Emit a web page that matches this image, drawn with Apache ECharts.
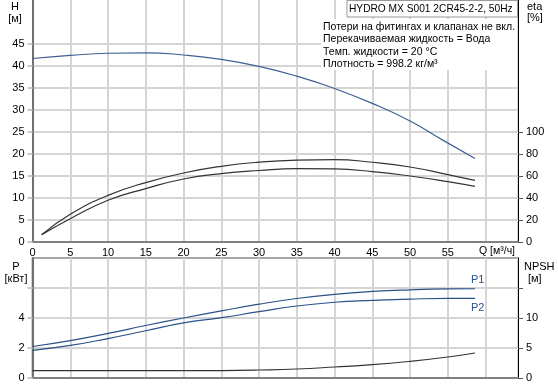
<!DOCTYPE html>
<html><head><meta charset="utf-8">
<script src="https://cdn.jsdelivr.net/npm/echarts@6/dist/echarts.min.js"></script>
<style>html,body{margin:0;padding:0;background:#fff}#c{width:558px;height:387px}</style>
</head><body><div id="c"></div>
<script>
// ---- data ----
const qHead = [0, 5, 10, 15, 20, 25, 30, 35, 40, 45, 50, 54.4, 58.6];
const head  = [41.7, 42.4, 42.9, 43.0, 42.5, 41.5, 39.9, 37.7, 34.9, 31.5, 27.5, 23.1, 19.0];

const qEta  = [1.22, 5, 10, 15, 20, 25, 30, 35, 40, 45, 50, 55, 58.6];
const eta1  = [6.7, 25.2, 42.4, 54.0, 62.7, 68.8, 72.6, 74.5, 74.9, 72.5, 68.2, 61.3, 56.1];
const eta2  = [6.7, 21.2, 37.9, 48.5, 57.3, 62.2, 65.0, 66.7, 66.4, 64.0, 60.0, 54.9, 50.6];

const qP    = [0, 5, 10, 15, 20, 25, 30, 35, 40, 45, 50, 55, 58.6];
const p1    = [2.10, 2.49, 2.97, 3.50, 4.00, 4.47, 4.92, 5.30, 5.58, 5.77, 5.88, 5.94, 5.95];
const p2    = [1.84, 2.17, 2.63, 3.15, 3.67, 4.02, 4.42, 4.80, 5.05, 5.17, 5.26, 5.31, 5.31];

const qNpsh = [0, 5, 10, 15, 20, 25, 30, 35, 40, 45, 50, 55, 58.6];
const npsh  = [1.22, 1.22, 1.22, 1.22, 1.22, 1.24, 1.33, 1.50, 1.83, 2.22, 2.78, 3.50, 4.17];

const qTicks    = [0, 5, 10, 15, 20, 25, 30, 35, 40, 45, 50, 55];
const hTicks    = [0, 5, 10, 15, 20, 25, 30, 35, 40, 45];
const etaTicks  = [0, 20, 40, 60, 80, 100];
const pTicks    = [0, 2, 4];
const pTickMarks = [0, 2, 4, 6];
const npshTicks = [0, 5, 10];
const npshTickMarks = [0, 5, 10, 15];

const infoTitle = 'HYDRO MX S001 2CR45-2-2, 50Hz';
const infoLines = ['Потери на фитингах и клапанах не вкл.',
                   'Перекачиваемая жидкость = Вода',
                   'Темп. жидкости = 20 °C',
                   'Плотность = 998.2 кг/м³'];

const zip = (xs, ys) => xs.map((x, i) => [x, ys[i]]);

const FONT = 'Liberation Sans, Arial, sans-serif';
const lbl = {color: '#000', fontSize: 11, fontFamily: FONT};
const grid = {lineStyle: {color: '#d5d5d5', width: 2}};

const chart = echarts.init(document.getElementById('c'), null, {renderer: 'canvas'});
chart.setOption({
  animation: false,
  textStyle: {fontFamily: FONT},
  grid: [
    {left: 32.5, top: 0, width: 485.5, height: 242},
    {left: 32.5, top: 258, width: 485.5, height: 120, show: true, borderColor: '#a8a8a8', borderWidth: 2}
  ],
  xAxis: [
    {type: 'value', gridIndex: 0, min: 0, max: 64.3, interval: 5,
     axisLine: {lineStyle: {color: '#808080', width: 2}},
     axisTick: {show: false},
     axisLabel: Object.assign({margin: 5, customValues: qTicks}, lbl),
     splitLine: grid},
    {type: 'value', gridIndex: 1, min: 0, max: 64.3, interval: 5,
     axisLine: {lineStyle: {color: '#808080', width: 2}},
     axisTick: {show: false}, axisLabel: {show: false},
     splitLine: grid}
  ],
  yAxis: [
    {type: 'value', gridIndex: 0, min: 0, max: 55, interval: 5,
     axisLine: {show: true, lineStyle: {color: '#707070', width: 2}},
     axisTick: {show: true, length: 5, customValues: hTicks, lineStyle: {color: '#c8c8c8', width: 2}},
     axisLabel: Object.assign({margin: 8, customValues: hTicks}, lbl),
     splitLine: grid},
    {type: 'value', gridIndex: 0, position: 'right', min: 0, max: 220, interval: 20,
     axisLine: {show: true, lineStyle: {color: '#000', width: 1}},
     axisTick: {show: true, length: 5, customValues: etaTicks, lineStyle: {color: '#555'}},
     axisLabel: Object.assign({margin: 8, customValues: etaTicks}, lbl),
     splitLine: {show: false}},
    {type: 'value', gridIndex: 1, min: 0, max: 8, interval: 2,
     axisLine: {show: true, lineStyle: {color: '#707070', width: 2}},
     axisTick: {show: true, length: 5, customValues: pTickMarks, lineStyle: {color: '#c8c8c8', width: 2}},
     axisLabel: Object.assign({margin: 8, customValues: pTicks}, lbl),
     splitLine: grid},
    {type: 'value', gridIndex: 1, position: 'right', min: 0, max: 20, interval: 5,
     axisLine: {show: true, lineStyle: {color: '#000', width: 1}},
     axisTick: {show: true, length: 5, customValues: npshTickMarks, lineStyle: {color: '#555'}},
     axisLabel: Object.assign({margin: 8, customValues: npshTicks}, lbl),
     splitLine: {show: false}}
  ],
  series: [
    {name: 'H', type: 'line', xAxisIndex: 0, yAxisIndex: 0, data: zip(qHead, head), smooth: true,
     showSymbol: false, lineStyle: {color: '#3d5f94', width: 1.2}},
    {name: 'eta1', type: 'line', xAxisIndex: 0, yAxisIndex: 1, data: zip(qEta, eta1), smooth: true,
     showSymbol: false, lineStyle: {color: '#333', width: 1.2}},
    {name: 'eta2', type: 'line', xAxisIndex: 0, yAxisIndex: 1, data: zip(qEta, eta2), smooth: true,
     showSymbol: false, lineStyle: {color: '#333', width: 1.2}},
    {name: 'P1', type: 'line', xAxisIndex: 1, yAxisIndex: 2, data: zip(qP, p1), smooth: true,
     showSymbol: false, lineStyle: {color: '#2a5188', width: 1.2},
     endLabel: {show: true, formatter: 'P1', color: '#2a5188', fontSize: 11, fontFamily: FONT, offset: [-12, -9]}},
    {name: 'P2', type: 'line', xAxisIndex: 1, yAxisIndex: 2, data: zip(qP, p2), smooth: true,
     showSymbol: false, lineStyle: {color: '#2a5188', width: 1.2},
     endLabel: {show: true, formatter: 'P2', color: '#2a5188', fontSize: 11, fontFamily: FONT, offset: [-12, 10]}},
    {name: 'NPSH', type: 'line', xAxisIndex: 1, yAxisIndex: 3, data: zip(qNpsh, npsh), smooth: true,
     showSymbol: false, lineStyle: {color: '#333', width: 1.2}}
  ],
  graphic: [
    {type: 'text', left: 479, top: 246, style: {text: 'Q [м³/ч]', fill: '#000', font: '10.5px ' + FONT}},
    {type: 'text', x: 15, y: 7, style: {text: 'H', fill: '#000', font: '11px ' + FONT, align: 'center', verticalAlign: 'middle'}},
    {type: 'text', x: 15, y: 19, style: {text: '[м]', fill: '#000', font: '11px ' + FONT, align: 'center', verticalAlign: 'middle'}},
    {type: 'text', x: 527, y: 7, style: {text: 'eta', fill: '#000', font: '11px ' + FONT, align: 'left', verticalAlign: 'middle'}},
    {type: 'text', x: 527, y: 18, style: {text: '[%]', fill: '#000', font: '11px ' + FONT, align: 'left', verticalAlign: 'middle'}},
    {type: 'text', x: 16, y: 267, style: {text: 'P', fill: '#000', font: '11px ' + FONT, align: 'center', verticalAlign: 'middle'}},
    {type: 'text', x: 16, y: 279, style: {text: '[кВт]', fill: '#000', font: '11px ' + FONT, align: 'center', verticalAlign: 'middle'}},
    {type: 'text', x: 524, y: 267, style: {text: 'NPSH', fill: '#000', font: '11px ' + FONT, align: 'left', verticalAlign: 'middle'}},
    {type: 'text', x: 528, y: 279, style: {text: '[м]', fill: '#000', font: '11px ' + FONT, align: 'left', verticalAlign: 'middle'}},
    {type: 'rect', shape: {x: 321, y: 19, width: 196, height: 51}, style: {fill: '#fff'}, z: 50},
    {type: 'rect', shape: {x: 347, y: 0.5, width: 170.5, height: 16.5}, style: {fill: '#fff', stroke: '#999', lineWidth: 1}, z: 50},
    {type: 'text', x: 349, y: 9, z: 51, style: {text: infoTitle, fill: '#000', font: '10.2px ' + FONT, verticalAlign: 'middle'}},
    {type: 'text', x: 323, y: 26.7, z: 51, style: {text: infoLines[0], fill: '#000', font: '10.5px ' + FONT, verticalAlign: 'middle'}},
    {type: 'text', x: 323, y: 39.2, z: 51, style: {text: infoLines[1], fill: '#000', font: '10.5px ' + FONT, verticalAlign: 'middle'}},
    {type: 'text', x: 323, y: 51.7, z: 51, style: {text: infoLines[2], fill: '#000', font: '10.5px ' + FONT, verticalAlign: 'middle'}},
    {type: 'text', x: 323, y: 64.2, z: 51, style: {text: infoLines[3], fill: '#000', font: '10.5px ' + FONT, verticalAlign: 'middle'}}
  ]
});
</script></body></html>
